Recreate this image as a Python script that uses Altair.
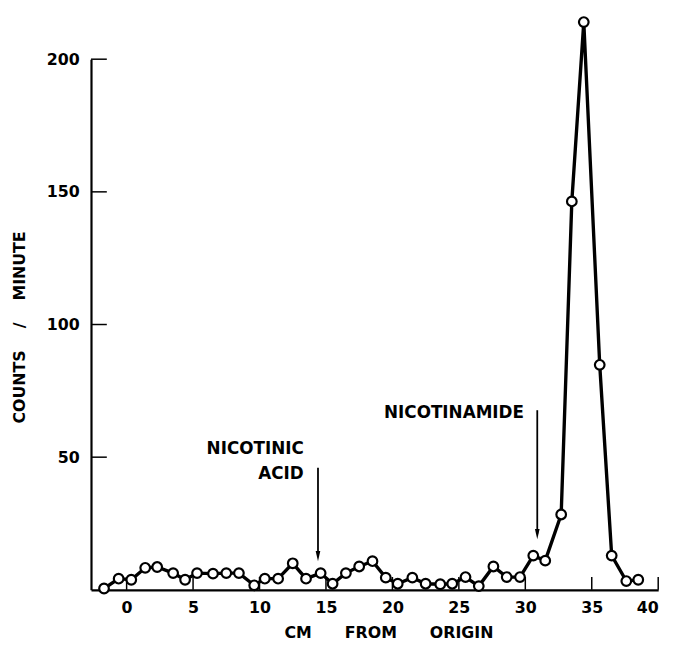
import altair as alt
import pandas as pd

# Data
cm = [-1.7, -0.6, 0.35, 1.4, 2.3, 3.5, 4.4, 5.3, 6.5, 7.5, 8.45, 9.6, 10.4, 11.4,
      12.5, 13.5, 14.6, 15.5, 16.5, 17.5, 18.5, 19.5, 20.4, 21.5, 22.5, 23.6, 24.5,
      25.5, 26.5, 27.6, 28.6, 29.6, 30.6, 31.5, 32.7, 33.5, 34.4, 35.6, 36.5, 37.6, 38.5]
counts = [0.5, 4.2, 3.8, 8.3, 8.6, 6.3, 3.8, 6.3, 6.1, 6.3, 6.3, 1.7, 4.2, 4.2,
          10, 4.2, 6.3, 2.3, 6.3, 8.8, 10.8, 4.6, 2.3, 4.6, 2.3, 2.1, 2.3,
          4.8, 1.4, 8.8, 4.8, 4.8, 12.9, 11, 28.4, 146.4, 214, 84.8, 12.9, 3.3, 3.8]

x_ticks = [0, 5, 10, 15, 20, 25, 30, 35, 40]
y_ticks = [50, 100, 150, 200]

arrow_x = [14.4, 30.9]
arrow_top = [46, 67.7]
arrow_head = [12.7, 21.0]

label_text = ["NICOTINIC", "ACID", "NICOTINAMIDE"]
label_x = [13.33, 13.33, 29.9]
label_y = [52.9, 43.5, 66.5]

FONT = "DejaVu Sans"
W, H = 574, 537

df = pd.DataFrame({"x": cm, "y": counts})
xt = pd.DataFrame({"x": x_ticks})
yt = pd.DataFrame({"y": y_ticks})
arr = pd.DataFrame({"x": arrow_x, "y": arrow_top, "y2": arrow_head})
lab = pd.DataFrame({"x": label_x, "y": label_y, "t": label_text})

xscale = alt.Scale(domain=[-2.68, 40], nice=False, zero=False)
yscale = alt.Scale(domain=[0, 200], nice=False)

xaxis = alt.Axis(values=x_ticks, ticks=False, tickSize=0, grid=False,
                 domainColor="black", domainWidth=2.2, labelFont=FONT, labelFontSize=16,
                 labelFontWeight="bold", labelColor="black", labelPadding=10,
                 title="CM\u00a0\u00a0\u00a0\u00a0\u00a0\u00a0FROM\u00a0\u00a0\u00a0\u00a0\u00a0\u00a0ORIGIN",
                 titleFont=FONT, titleFontSize=16, titleFontWeight="bold", titleColor="black",
                 titleX=301, titleY=43, titleAlign="center", titleBaseline="middle",
                 titleAnchor="start")
yaxis = alt.Axis(values=y_ticks, ticks=False, tickSize=0, grid=False,
                 domainColor="black", domainWidth=2.2, labelFont=FONT, labelFontSize=16,
                 labelFontWeight="bold", labelColor="black", labelPadding=12,
                 title="COUNTS\u00a0\u00a0\u00a0\u00a0/\u00a0\u00a0\u00a0\u00a0MINUTE",
                 titleFont=FONT, titleFontSize=16, titleFontWeight="bold", titleColor="black",
                 titleX=-72, titleY=271, titleAngle=270, titleAlign="center",
                 titleBaseline="middle", titleAnchor="start")

X = lambda: alt.X("x:Q", scale=xscale, axis=xaxis)
Y = lambda: alt.Y("y:Q", scale=yscale, axis=yaxis)

line = alt.Chart(df).mark_line(color="black", strokeWidth=3.4).encode(x=X(), y=Y())
pts = alt.Chart(df).mark_point(shape="circle", filled=True, fill="white", stroke="black",
                               strokeWidth=2.2, size=95, opacity=1).encode(x=X(), y=Y())

xtick_rules = alt.Chart(xt).mark_rule(color="black", strokeWidth=1.5).encode(
    x=X(), y=alt.value(H), y2=alt.value(H - 13))
ytick_rules = alt.Chart(yt).mark_rule(color="black", strokeWidth=1.5).encode(
    y=Y(), x=alt.value(0), x2=alt.value(16))

arrow_lines = alt.Chart(arr).mark_rule(color="black", strokeWidth=1.8).encode(
    x=X(), y=Y(), y2="y2:Q")
arrow_heads = alt.Chart(arr).mark_point(shape="M -0.45 -1 L 0.45 -1 L 0 1 Z", filled=True,
                                        color="black", size=110, opacity=1).encode(
    x=X(), y=alt.Y("y2:Q", scale=yscale, axis=yaxis))

labels = alt.Chart(lab).mark_text(align="right", baseline="middle", font=FONT, fontSize=17,
                                  fontWeight="bold", color="black").encode(
    x=X(), y=Y(), text="t:N")

chart = alt.layer(xtick_rules, ytick_rules, arrow_lines, arrow_heads, line, pts, labels).properties(
    width=W, height=H,
    autosize=alt.AutoSizeParams(type="none"),
    padding={"left": 84, "top": 48, "right": 17, "bottom": 50},
    background="white",
).configure_view(stroke=None)

chart.save("out.html", embed_options={"renderer": "svg", "actions": False})
